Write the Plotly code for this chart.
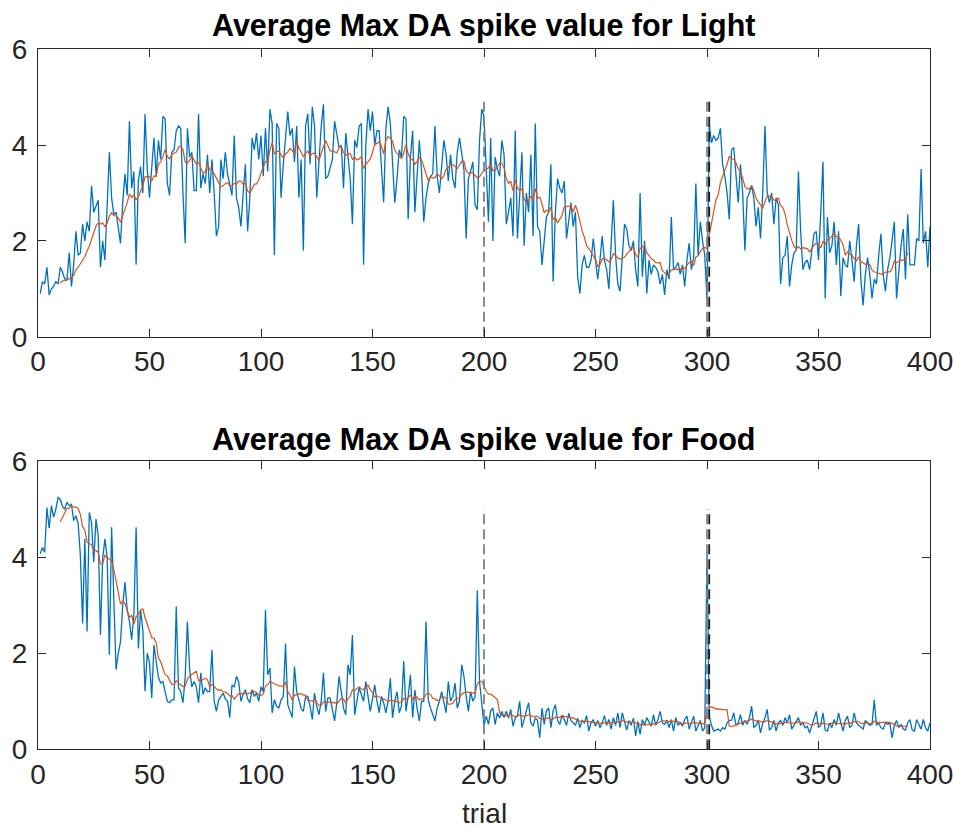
import numpy as np
import pandas as pd
import plotly.graph_objects as go

# ---------------- data ----------------
trials = list(range(1, 401))

light = [
    0.9, 1.15, 1.1, 1.45, 0.87, 1.0, 1.05, 1.15, 1.1, 1.45,
    1.35, 1.2, 1.2, 1.75, 1.05, 1.5, 2.2, 1.7, 1.75, 2.35,
    2.0, 2.4, 2.2, 3.15, 2.6, 2.75, 2.85, 1.45, 2.0, 1.6,
    2.7, 3.85, 2.9, 2.55, 2.6, 2.3, 1.95, 2.8, 3.4, 2.95,
    4.5, 3.1, 3.45, 1.5, 3.25, 3.55, 3.0, 4.65, 3.5, 2.9,
    3.6, 4.15, 3.35, 4.1, 3.7, 4.6, 4.55, 3.2, 2.95, 3.85,
    3.9, 4.3, 4.4, 4.35, 3.0, 1.95, 4.35, 3.75, 3.85, 3.05,
    3.05, 4.65, 3.1, 3.4, 3.2, 3.8, 3.0, 3.7, 3.0, 2.1,
    2.3, 3.7, 3.3, 3.85, 3.4, 3.2, 2.95, 4.2, 2.9, 2.7,
    2.3, 3.0, 3.6, 2.2, 2.9, 4.15, 3.9, 4.25, 3.7, 4.2,
    3.35, 4.35, 3.45, 4.75, 4.45, 1.7, 4.45, 4.35, 2.9, 3.6,
    4.2, 4.7, 4.2, 4.35, 3.65, 4.4, 2.9, 3.7, 1.8, 4.4,
    4.65, 3.6, 4.8, 4.4, 2.9, 3.65, 4.4, 4.85, 3.3, 3.35,
    3.5, 3.7, 4.5, 4.2, 3.95, 4.0, 3.1, 4.25, 3.7, 3.3,
    2.35, 4.1, 3.95, 4.4, 4.45, 1.5, 4.0, 4.75, 4.3, 4.7,
    4.0, 4.3, 4.3, 3.5, 2.8, 4.35, 4.8, 4.45, 3.6, 2.8,
    3.3, 3.9, 3.75, 4.6, 4.55, 2.45, 3.75, 4.3, 2.6, 3.4,
    4.1, 3.45, 2.4, 2.9, 3.2, 3.35, 3.4, 4.4, 3.35, 3.0,
    3.5, 4.1, 3.8, 3.25, 3.8, 3.3, 3.1, 3.85, 4.15, 3.8,
    3.5, 2.05, 3.3, 3.45, 3.65, 2.75, 2.65, 4.1, 4.75, 4.6,
    3.6, 2.4, 4.15, 2.0, 3.75, 3.5, 3.35, 4.1, 3.8, 2.35,
    2.6, 2.9, 2.1, 4.3, 2.05, 2.9, 3.85, 1.9, 3.0, 2.6,
    3.8, 2.1, 4.45, 2.3, 2.2, 1.5, 2.0, 2.5, 2.6, 3.6,
    1.15, 2.6, 3.3, 3.1, 3.0, 3.25, 2.05, 2.45, 2.8, 2.3,
    2.6, 1.25, 0.9, 1.5, 1.7, 1.45, 1.45, 1.6, 2.05, 1.6,
    1.2, 1.6, 2.1, 1.6, 1.4, 1.0, 1.9, 2.85, 1.7, 1.1,
    0.95, 1.75, 2.35, 2.25, 1.9, 1.8, 2.0, 1.4, 1.05, 3.0,
    1.25, 2.0, 0.9, 1.6, 1.3, 1.5, 1.45, 1.35, 1.1, 1.3,
    0.87, 1.4, 1.2, 2.5, 1.4, 1.45, 1.55, 1.3, 1.5, 1.05,
    1.6, 1.95, 1.4, 1.65, 3.2, 1.7, 2.4, 2.0, 1.7, 0.76,
    4.45, 4.05, 4.2, 4.1, 4.15, 4.35, 3.6, 3.35, 3.0, 2.45,
    3.9, 3.95, 3.45, 2.8, 3.6, 3.0, 1.8, 2.9, 3.0, 3.15,
    2.9, 2.3, 2.7, 2.05, 3.0, 4.4, 3.0, 2.8, 3.0, 2.35,
    2.9, 2.75, 1.1, 1.65, 1.7, 2.1, 1.05, 1.5, 1.75, 1.8,
    3.45, 2.2, 1.4, 1.55, 1.6, 1.4, 1.8, 2.15, 2.2, 1.6,
    2.6, 3.65, 0.8, 2.5, 1.75, 1.9, 2.4, 1.5, 2.2, 0.85,
    1.65, 1.5, 1.45, 2.0, 1.6, 1.15, 1.9, 2.35, 1.2, 0.65,
    1.3, 1.65, 1.3, 0.8, 1.2, 1.1, 1.7, 2.15, 1.3, 0.95,
    1.4, 1.65, 2.0, 2.4, 0.8, 1.4, 1.9, 2.25, 1.2, 2.55,
    1.5, 1.5, 1.5, 2.05, 2.0, 3.5, 1.95, 2.2, 1.45, 2.3,
]

food = [
    4.07, 4.2, 4.1, 5.03, 4.6, 5.07, 4.83, 5.0, 5.24, 5.2,
    5.05, 5.0, 5.14, 5.07, 5.1, 4.76, 4.86, 4.7, 4.03, 2.62,
    4.38, 2.45, 4.93, 4.72, 3.9, 4.79, 4.45, 2.38, 3.97, 4.38,
    4.0, 1.97, 4.62, 3.0, 1.66, 2.0, 2.24, 3.0, 3.48, 2.9,
    2.66, 2.28, 2.8, 4.62, 2.1, 2.9, 2.48, 1.21, 2.0, 1.8,
    1.07, 2.17, 1.79, 1.5, 1.38, 1.41, 1.2, 1.0, 0.97, 1.03,
    1.03, 2.97, 1.28, 1.2, 0.97, 1.5, 2.66, 1.66, 1.3, 1.41,
    1.3, 0.97, 1.59, 1.14, 1.28, 1.2, 1.2, 2.07, 1.0, 0.79,
    1.03, 1.1, 1.17, 1.05, 1.0, 0.66, 1.34, 1.3, 1.52, 1.4,
    1.0, 1.15, 1.24, 1.05, 0.97, 1.24, 1.1, 1.17, 1.0, 1.3,
    1.2, 2.9, 1.55, 1.69, 0.76, 1.03, 0.9, 0.86, 1.03, 1.1,
    2.2, 0.93, 0.8, 0.66, 1.72, 1.2, 1.03, 0.85, 0.79, 1.1,
    1.1, 0.9, 0.62, 1.17, 0.9, 0.72, 1.0, 1.59, 0.79, 1.07,
    1.07, 0.8, 0.59, 0.97, 1.52, 1.2, 0.85, 0.72, 1.76, 1.55,
    2.38, 0.72, 1.0, 1.28, 1.14, 1.0, 1.41, 1.1, 0.79, 1.05,
    1.34, 1.0, 0.76, 1.1, 0.97, 0.76, 1.0, 1.48, 0.66, 1.0,
    1.2, 0.76, 0.9, 1.83, 0.79, 1.1, 1.55, 0.66, 1.24, 0.85,
    0.59, 1.0, 1.0, 2.66, 1.03, 0.86, 0.7, 0.59, 0.86, 1.0,
    1.2, 1.0, 0.76, 1.41, 1.0, 1.1, 1.38, 0.86, 1.0, 1.76,
    1.52, 1.1, 0.79, 1.2, 1.0, 1.1, 3.31, 1.41, 0.97, 0.5,
    0.69, 0.52, 0.8, 0.86, 0.52, 0.76, 0.65, 0.79, 0.66, 0.79,
    0.65, 0.83, 0.48, 0.65, 0.7, 1.0, 0.45, 0.66, 0.8, 0.97,
    0.55, 0.48, 0.66, 0.6, 0.24, 0.86, 0.52, 0.8, 0.86, 0.45,
    0.8, 0.93, 0.6, 0.52, 0.7, 0.62, 0.5, 0.75, 0.6, 0.55,
    0.5, 0.65, 0.45, 0.6, 0.55, 0.7, 0.38, 0.55, 0.62, 0.48,
    0.6, 0.45, 0.55, 0.7, 0.5, 0.62, 0.42, 0.66, 0.5, 0.76,
    0.45, 0.76, 0.55, 0.4, 0.6, 0.5, 0.65, 0.28, 0.58, 0.31,
    0.62, 0.5, 0.66, 0.55, 0.48, 0.72, 0.5, 0.62, 0.79, 0.55,
    0.52, 0.6, 0.45, 0.62, 0.38, 0.66, 0.5, 0.55, 0.48, 0.62,
    0.69, 0.42, 0.55, 0.69, 0.38, 0.5, 0.6, 0.38, 0.45, 4.1,
    0.69, 0.5, 0.38, 0.4, 0.42, 0.38, 0.45, 0.42, 0.55, 0.6,
    0.6, 0.76, 0.5, 0.55, 0.72, 0.5, 0.6, 0.52, 0.65, 0.9,
    0.45, 0.5, 0.6, 0.34, 0.55, 0.65, 0.83, 0.4, 0.45, 0.6,
    0.38, 0.55, 0.6, 0.5, 0.66, 0.55, 0.72, 0.42, 0.5, 0.6,
    0.66, 0.5, 0.55, 0.45, 0.48, 0.34, 0.5, 0.62, 0.79, 0.45,
    0.5, 0.76, 0.4, 0.38, 0.55, 0.45, 0.62, 0.5, 0.76, 0.55,
    0.38, 0.6, 0.69, 0.45, 0.5, 0.76, 0.55, 0.5, 0.45, 0.42,
    0.6, 0.55, 0.5, 0.52, 1.03, 0.5, 0.55, 0.45, 0.42, 0.55,
    0.52, 0.55, 0.24, 0.5, 0.6, 0.45, 0.52, 0.42, 0.4, 0.55,
    0.62, 0.4, 0.38, 0.62, 0.5, 0.42, 0.62, 0.45, 0.38, 0.55,
]

smooth_window = 10            # trailing moving-average window (orange line)
smooth_range = (10, 390)      # trials over which the average is drawn

x_ticks = [0, 50, 100, 150, 200, 250, 300, 350, 400]
y_ticks = [0, 2, 4, 6]

# vertical dashed event markers: (trial, colour)
event_trials = [200, 300, 301]
event_colors = ["#808080", "#808080", "#1a1a1a"]
event_top = 5

titles = ["Average Max DA spike value for Light",
          "Average Max DA spike value for Food"]
x_label = "trial"

BLUE = "#0072BD"
ORANGE = "#D95319"
AX = "#262626"
FONT = "Liberation Sans, Arial, Helvetica, sans-serif"


def trailing_mean(values):
    s = pd.Series(values, index=trials).rolling(smooth_window).mean()
    s = s.loc[smooth_range[0]:smooth_range[1]]
    return list(s.index), list(s.values)


fig = go.Figure()

panels = [(light, "x", "y"), (food, "x2", "y2")]
for vals, xa, ya in panels:
    fig.add_trace(go.Scatter(x=trials, y=vals, mode="lines", xaxis=xa, yaxis=ya,
                             line=dict(color=BLUE, width=1.3), showlegend=False,
                             hoverinfo="skip", cliponaxis=False))
    sx, sy = trailing_mean(vals)
    fig.add_trace(go.Scatter(x=sx, y=sy, mode="lines", xaxis=xa, yaxis=ya,
                             line=dict(color=ORANGE, width=1.2), showlegend=False,
                             hoverinfo="skip"))
    for t, c in zip(event_trials, event_colors):
        fig.add_trace(go.Scatter(x=[t, t], y=[0, event_top], mode="lines",
                                 xaxis=xa, yaxis=ya,
                                 line=dict(color=c, width=1.8, dash="10px,5px"),
                                 showlegend=False, hoverinfo="skip"))

W, H = 953, 830
x_dom = [38 / W, 930 / W]
top_dom = [(H - 336.7) / H, (H - 49.3) / H]
bot_dom = [(H - 749.3) / H, (H - 461) / H]

axis_common = dict(showline=True, linecolor=AX, linewidth=1, mirror="allticks",
                   ticks="inside", ticklen=8, tickwidth=1, tickcolor=AX,
                   showgrid=False, zeroline=False, automargin=False,
                   ticklabeloverflow="allow",
                   tickfont=dict(family=FONT, size=28, color=AX))

fig.update_layout(
    width=W, height=H,
    margin=dict(l=0, r=0, t=0, b=0, autoexpand=False),
    paper_bgcolor="white", plot_bgcolor="white",
    xaxis=dict(domain=x_dom, range=[0, 400], tickvals=x_ticks, anchor="y", **axis_common),
    yaxis=dict(domain=top_dom, range=[0, 6], tickvals=y_ticks, anchor="x",
               ticklabelstandoff=4, **axis_common),
    xaxis2=dict(domain=x_dom, range=[0, 400], tickvals=x_ticks, anchor="y2", **axis_common),
    yaxis2=dict(domain=bot_dom, range=[0, 6], tickvals=y_ticks, anchor="x2",
                ticklabelstandoff=4, **axis_common),
)

xc = (x_dom[0] + x_dom[1]) / 2
fig.add_annotation(text="<b>" + titles[0] + "</b>", x=xc, y=(H - 26) / H,
                   xref="paper", yref="paper", showarrow=False, yanchor="middle",
                   font=dict(family=FONT, size=30.5, color="black"))
fig.add_annotation(text="<b>" + titles[1] + "</b>", x=xc, y=(H - 439) / H,
                   xref="paper", yref="paper", showarrow=False, yanchor="middle",
                   font=dict(family=FONT, size=30.5, color="black"))
fig.add_annotation(text=x_label, x=xc, y=(H - 813) / H,
                   xref="paper", yref="paper", showarrow=False, yanchor="middle",
                   font=dict(family=FONT, size=28, color=AX))

fig.write_html("out.html")
